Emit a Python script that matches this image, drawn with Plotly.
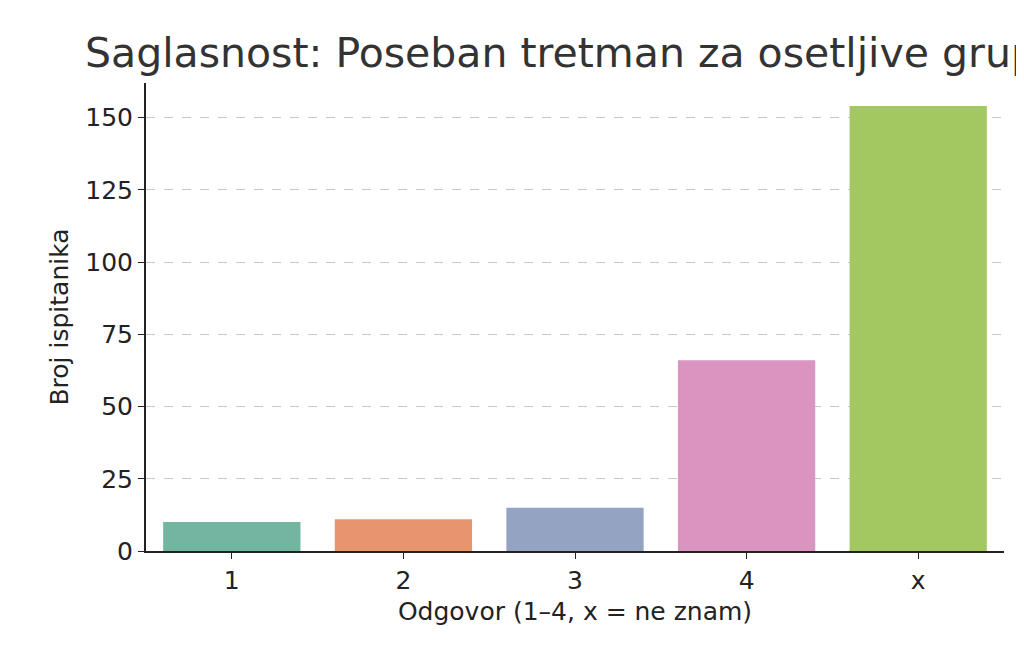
import plotly.graph_objects as go

categories = ["1", "2", "3", "4", "x"]
values = [10, 11, 15, 66, 154]
colors = ["#72b6a1", "#e8956f", "#95a3c3", "#d994bf", "#a3c862"]

fig = go.Figure(go.Bar(x=categories, y=values, marker_color=colors, marker_line_width=0, width=0.8))
font = "DejaVu Sans, sans-serif"
fig.update_layout(
    width=1024, height=652, paper_bgcolor="white", plot_bgcolor="white",
    margin=dict(l=138, r=28, t=75, b=109, autoexpand=False),
    font=dict(family=font, color="#222", size=25),
    showlegend=False, bargap=0.2,
)
fig.add_annotation(text="Saglasnost: Poseban tretman za osetljive grupe", x=75/1024, y=1-45/652,
                   xref="paper", yref="paper", xanchor="left", yanchor="middle", showarrow=False,
                   font=dict(size=41, color="#333"))
# paper coords are relative to plot area; convert
fig.layout.annotations[0].x = (75 - 138) / (1024 - 138 - 28)
fig.layout.annotations[0].y = (652 - 109 - 45) / (652 - 75 - 109)
fig.update_xaxes(range=[-0.5, 4.5], showline=True, linecolor="#222", linewidth=2, ticks="outside",
                 ticklen=6, tickcolor="#222", title_text="Odgovor (1–4, x = ne znam)", title_standoff=8,
                 tickfont=dict(size=25), automargin=False, title_font=dict(size=25))
fig.update_yaxes(range=[0, 162], showline=True, linecolor="#222", linewidth=2, ticks="outside",
                 ticklen=6, tickcolor="#222", tickvals=[0, 25, 50, 75, 100, 125, 150],
                 showgrid=True, gridcolor="#c8c8c8", griddash="dash", gridwidth=1, zeroline=False,
                 title_text="Broj ispitanika", title_standoff=10, tickfont=dict(size=25),
                 automargin=False, title_font=dict(size=25))
fig.write_html("out.html")
